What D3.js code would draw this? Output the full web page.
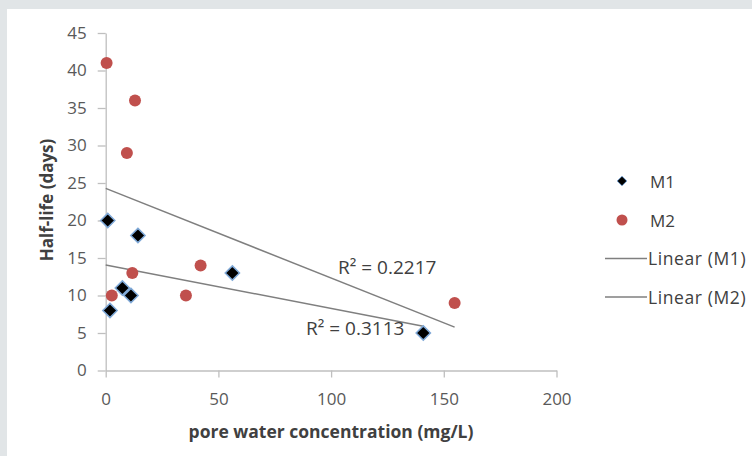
<!DOCTYPE html>
<html>
  <head>
    <meta charset="utf-8">
    <title>Half-life vs pore water concentration</title>
    <script src="https://d3js.org/d3.v7.min.js"></script>
    <style>
      body { margin: 0; background: #e1e5e7; }
      #chart { display: block; }
      text { font-family: "Open Sans", "Liberation Sans", sans-serif; }
      .tick text { fill: #595959; font-size: 17px; }
      .domain, .tick line { stroke: #bfbfbf; stroke-width: 1.3; }
    </style>
  </head>
  <body>
    <svg id="chart" width="752" height="456"></svg>
    <script>
      // data
      m1X = [0.9, 14.3, 7.4, 11.2, 1.9, 56.2, 140.9];
      m1Y = [20, 18, 11, 10, 8, 13, 5];
      m2X = [0.4, 13, 9.4, 2.7, 11.8, 42.1, 35.6, 154.8];
      m2Y = [41, 36, 29, 10, 13, 14, 10, 9];
      seriesNames = ["M1", "M2"];
      trendNames = ["Linear (M1)", "Linear (M2)"];
      r2Labels = ["R\u00b2 = 0.3113", "R\u00b2 = 0.2217"];
      xTicks = [0, 50, 100, 150, 200];
      yTicks = [0, 5, 10, 15, 20, 25, 30, 35, 40, 45];

      chart = d3.select("#chart");
      // white panel
      chart.append("rect")
        .attr("x", 7).attr("y", 9)
        .attr("width", 745).attr("height", 447)
        .attr("fill", "#fff");

      x = d3.scaleLinear().domain([0, 200]).range([105.7, 556.5]);
      y = d3.scaleLinear().domain([0, 45]).range([370.5, 33]);

      xAxis = d3.axisBottom(x).tickValues(xTicks).tickSize(7).tickSizeOuter(0).tickPadding(15);
      yAxis = d3.axisLeft(y).tickValues(yTicks).tickSize(8).tickSizeOuter(0).tickPadding(11);

      chart.append("g")
        .attr("transform", "translate(0," + y(0) + ")")
        .call(xAxis);
      chart.append("g")
        .attr("transform", "translate(" + x(0) + ",0)")
        .call(yAxis);
      chart.selectAll(".tick text").attr("font-family", null);

      // axis titles
      chart.append("text")
        .attr("x", 331).attr("y", 438)
        .attr("text-anchor", "middle")
        .attr("font-size", 17.5).attr("font-weight", "bold").attr("fill", "#404040")
        .text("pore water concentration (mg/L)");
      chart.append("text")
        .attr("transform", "translate(53,200) rotate(-90)")
        .attr("text-anchor", "middle")
        .attr("font-size", 17).attr("font-weight", "bold").attr("fill", "#404040")
        .text("Half-life (days)");

      // trend lines computed by least squares
      function fit(xs, ys) {
        var mx = d3.mean(xs), my = d3.mean(ys);
        var sxy = d3.sum(xs, function(v, i) { return (v - mx) * (ys[i] - my); });
        var sxx = d3.sum(xs, function(v) { return (v - mx) * (v - mx); });
        var b = sxy / sxx;
        return { b: b, a: my - b * mx, x0: 0, x1: d3.max(xs) };
      }
      fits = [fit(m1X, m1Y), fit(m2X, m2Y)];
      fits.forEach(function(f) {
        chart.append("line")
          .attr("x1", x(f.x0)).attr("y1", y(f.a + f.b * f.x0))
          .attr("x2", x(f.x1)).attr("y2", y(f.a + f.b * f.x1))
          .attr("stroke", "#7f7f7f").attr("stroke-width", 1.5);
      });

      // R² labels
      chart.append("text")
        .attr("x", 306).attr("y", 335)
        .attr("font-size", 19).attr("fill", "#404040")
        .text(r2Labels[0]);
      chart.append("text")
        .attr("x", 338).attr("y", 274)
        .attr("font-size", 19).attr("fill", "#404040")
        .text(r2Labels[1]);

      diamond = d3.symbol().type(d3.symbolDiamond2).size(130);

      // M2 circles
      chart.append("g").selectAll("circle")
        .data(m2X)
        .join("circle")
          .attr("cx", function(d) { return x(d); })
          .attr("cy", function(d, i) { return y(m2Y[i]); })
          .attr("r", 6)
          .attr("fill", "#c0504d");

      // M1 diamonds
      chart.append("g").selectAll("path")
        .data(m1X)
        .join("path")
          .attr("d", diamond)
          .attr("transform", function(d, i) { return "translate(" + x(d) + "," + y(m1Y[i]) + ")"; })
          .attr("fill", "#000")
          .attr("stroke", "#7fa9d8").attr("stroke-width", 1.5);

      // legend
      legend = chart.append("g");
      legend.append("path")
        .attr("d", d3.symbol().type(d3.symbolDiamond2).size(60))
        .attr("transform", "translate(622,181)")
        .attr("fill", "#000").attr("stroke", "#7fa9d8").attr("stroke-width", 1);
      legend.append("circle")
        .attr("cx", 622).attr("cy", 220).attr("r", 5.5)
        .attr("fill", "#c0504d");
      legend.selectAll("line")
        .data(trendNames)
        .join("line")
          .attr("x1", 605).attr("x2", 647)
          .attr("y1", function(d, i) { return 258.5 + i * 38.5; })
          .attr("y2", function(d, i) { return 258.5 + i * 38.5; })
          .attr("stroke", "#7f7f7f").attr("stroke-width", 1.5);
      legend.selectAll("text.s")
        .data(seriesNames)
        .join("text")
          .attr("class", "s")
          .attr("x", 650)
          .attr("y", function(d, i) { return 188 + i * 39; })
          .attr("font-size", 17).attr("fill", "#404040")
          .text(function(d) { return d; });
      legend.selectAll("text.t")
        .data(trendNames)
        .join("text")
          .attr("class", "t")
          .attr("x", 648)
          .attr("y", function(d, i) { return 265 + i * 38.5; })
          .attr("font-size", 17.5).attr("letter-spacing", 0.6).attr("fill", "#404040")
          .text(function(d) { return d; });
    </script>
  </body>
</html>
